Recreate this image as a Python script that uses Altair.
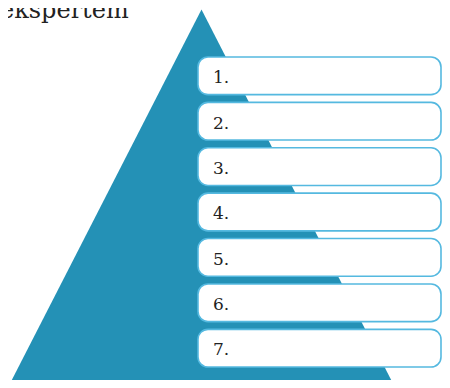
import altair as alt
import pandas as pd

labels = ["1.", "2.", "3.", "4.", "5.", "6.", "7."]
title_text = ["ekspertem"]

df = pd.DataFrame({"label": labels})
tdf = pd.DataFrame({"t": title_text})

W, H = 434, 372
yscale = alt.Scale(domain=labels, range=[49, 359], paddingInner=0.17, paddingOuter=0)

base = alt.Chart(df)

triangle = alt.Chart(pd.DataFrame({"k": [0]})).mark_point(
    shape="M0,-1L1.024,1L-1.024,1Z", filled=True, opacity=1,
    color="#2491b6", strokeWidth=0
).encode(
    x=alt.value(193.5), y=alt.value(190.75), size=alt.value(143262)
)

boxes = base.mark_rect(
    fill="white", stroke="#55b9e0", strokeWidth=1.6, cornerRadius=10
).encode(
    y=alt.Y("label:N", scale=yscale, axis=None),
    x=alt.value(190), x2=alt.value(433)
)

texts = base.mark_text(
    align="left", baseline="alphabetic", font="DejaVu Serif", fontSize=17,
    color="#222222", dy=7.3
).encode(
    y=alt.Y("label:N", scale=yscale, axis=None, bandPosition=0.5),
    x=alt.value(205),
    text="label:N"
)

title = alt.Chart(tdf).mark_text(
    align="left", baseline="alphabetic", font="DejaVu Serif", fontSize=24,
    color="#222222"
).encode(x=alt.value(-8), y=alt.value(10), text="t:N")

chart = alt.layer(triangle, boxes, texts, title).properties(
    width=W, height=H, padding=0, autosize=alt.AutoSizeParams(type="none")
).configure_view(stroke=None)

chart.save("out.html", embed_options={"renderer": "svg", "actions": False})
